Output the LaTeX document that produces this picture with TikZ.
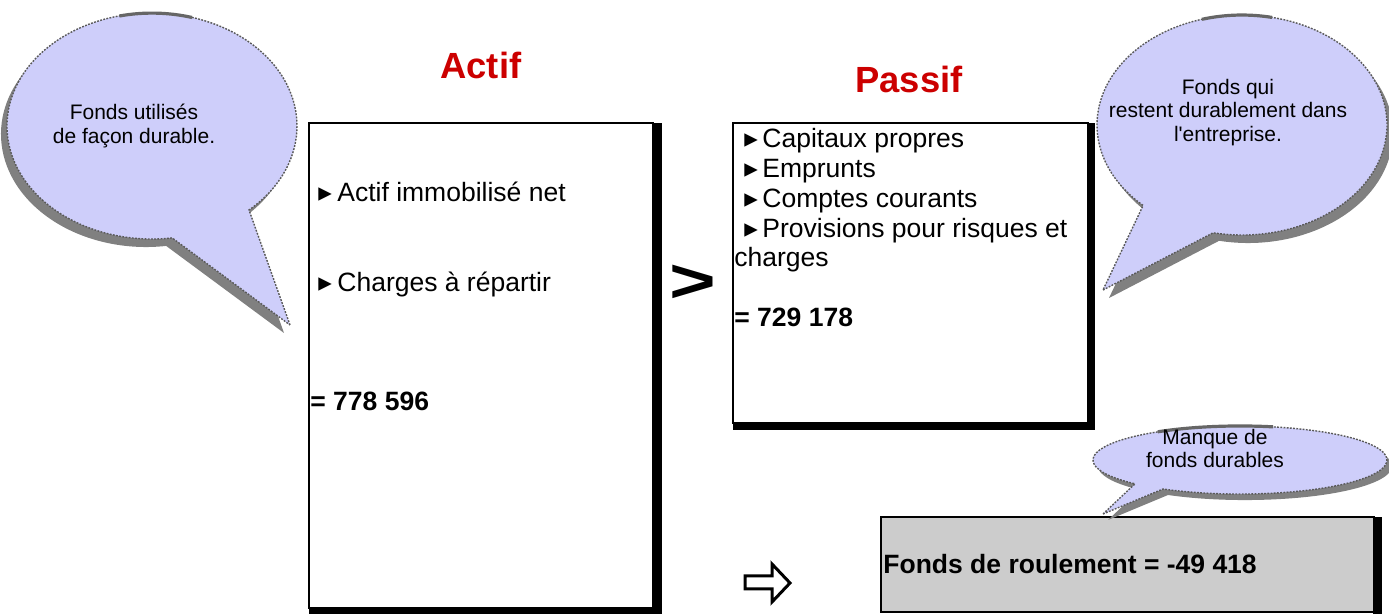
\documentclass[tikz,border=0pt]{standalone}
\usepackage{fontspec}
\setmainfont{Liberation Sans}
\newfontfamily\plainsans{Liberation Sans}
\newfontfamily\dejavu{DejaVu Sans}
\definecolor{bubblecol}{RGB}{206,206,250}
\definecolor{titlered}{RGB}{204,0,0}
\definecolor{boxgrey}{RGB}{204,204,204}
\tikzset{
  bubbleshape/.style={fill=bubblecol, draw=black!65, line width=0.7pt, dash pattern=on 0.9pt off 0.7pt},
  bubbleshadow/.style={fill=black!50, draw=none},
  topbar/.style={draw=black!60, line width=1.6pt},
  bubbletext/.style={anchor=north, inner sep=0, align=center, font=\plainsans\fontsize{10.5}{11.6}\selectfont},
  bodytext/.style={anchor=base west, inner sep=0, font=\fontsize{13.25}{15}\selectfont},
  boldtext/.style={bodytext, font=\fontsize{13.25}{15}\selectfont\bfseries},
  bullettext/.style={anchor=base west, inner sep=0, font=\dejavu\fontsize{13.5}{14}\selectfont},
  titletext/.style={anchor=base west, inner sep=0, text=titlered, font=\fontsize{18.2}{20}\selectfont\bfseries},
  whitebox/.style={fill=white, draw=black, line width=0.9pt},
  boxbar/.style={fill=black, draw=none},
}
\begin{document}
\begin{tikzpicture}[x=0.5pt, y=-0.5pt]
\useasboundingbox (0,0) rectangle (1389,614);
\fill[white] (0,0) rectangle (1389,614);

% ---------- Actif box ----------
\fill[boxbar] (653,123) rectangle (662,614);
\fill[boxbar] (309,607) rectangle (662,614);
\draw[whitebox] (309,123) rectangle (653,608);
\node[titletext] (tactif) at (440,79) {Actif};
\node[bullettext] (ba1) at (318,202) {▸};
\node[bodytext] (a1) at (337,202) {Actif immobilisé net};
\node[bullettext] (ba2) at (318,292) {▸};
\node[bodytext] (a2) at (337,292) {Charges à répartir};
\node[boldtext] (atot) at (310,411) {= 778 596};

% ---------- greater sign ----------
\node[inner sep=0, font=\fontsize{40}{40}\selectfont\bfseries] (gt) at (693,284) {\scalebox{1}[0.78]{>}};

% ---------- Passif box ----------
\fill[boxbar] (1088,123) rectangle (1095,430);
\fill[boxbar] (733,422) rectangle (1095,430);
\draw[whitebox] (733,123) rectangle (1088,423);
\node[titletext] (tpassif) at (855,93) {Passif};
\node[bullettext] (bp1) at (744,148) {▸};
\node[bodytext] (p1) at (762,148) {Capitaux propres};
\node[bullettext] (bp2) at (744,178) {▸};
\node[bodytext] (p2) at (762,178) {Emprunts};
\node[bullettext] (bp3) at (744,208) {▸};
\node[bodytext] (p3) at (762,208) {Comptes courants};
\node[bullettext] (bp4) at (744,238) {▸};
\node[bodytext] (p4) at (762,238) {Provisions pour risques et};
\node[bodytext] (p5) at (734,267) {charges};
\node[boldtext] (ptot) at (734,327) {= 729 178};

% ---------- Fonds de roulement ----------
\fill[boxbar] (1373,517) rectangle (1382,614);
\draw[fill=boxgrey, draw=black, line width=0.9pt] (881,517) rectangle (1374,612);
\node[boldtext] (fr) at (883,574) {Fonds de roulement = -49 418};

% ---------- outline arrow ----------
\draw[line width=1.5pt, line join=miter, fill=white] (745,576) -- (772,576) -- (772,564) -- (790,583) -- (772,602) -- (772,589) -- (745,589) -- cycle;

% ---------- bubble 1 (left) ----------
\fill[bubbleshadow, shift={(-6,8)}] (290,325) -- (249,210) arc[start angle=48, end angle=-278, x radius=145, y radius=113] -- cycle;
\draw[bubbleshape] (290,325) -- (249,210) arc[start angle=48, end angle=-278, x radius=145, y radius=113] -- cycle;
\draw[topbar] (119.4,16) arc[start angle=-103, end angle=-74, x radius=145, y radius=113];
\node[bubbletext] (b1) at (134,104) {Fonds utilisés\\de façon durable.};

% ---------- bubble 2 (right) ----------
\fill[bubbleshadow, shift={(6,8)}] (1103,290) -- (1213.1,232.8) arc[start angle=101.5, end angle=-227, x radius=145, y radius=110] -- cycle;
\draw[bubbleshape] (1103,290) -- (1213.1,232.8) arc[start angle=101.5, end angle=-227, x radius=145, y radius=110] -- cycle;
\draw[topbar] (1202,19.3) arc[start angle=-106, end angle=-78, x radius=145, y radius=110];
\node[bubbletext] (b2) at (1228,79) {Fonds qui\\restent durablement dans\\l'entreprise.};

% ---------- bubble 3 (bottom right) ----------
\fill[bubbleshadow, shift={(5,6)}] (1103,514) -- (1163,489) arc[start angle=121.6, end angle=-224.4, x radius=147, y radius=34] -- cycle;
\draw[bubbleshape] (1103,514) -- (1163,489) arc[start angle=121.6, end angle=-224.4, x radius=147, y radius=34] -- cycle;
\draw[topbar] (1157.8,431.8) arc[start angle=-124, end angle=-77, x radius=147, y radius=34];
\node[bubbletext] (b3) at (1215,429) {Manque de\\fonds durables};
\end{tikzpicture}
\end{document}
